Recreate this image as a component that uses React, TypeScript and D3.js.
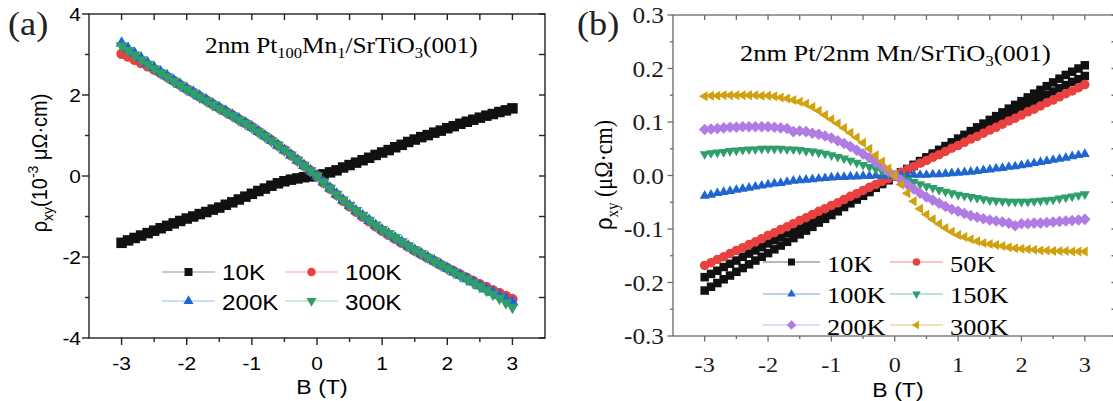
import * as d3 from "d3";

// magnetic field grid, B (T)
const fieldB = [
  -3.0, -2.9, -2.8, -2.7, -2.6, -2.5, -2.4, -2.3, -2.2, -2.1,
  -2.0, -1.9, -1.8, -1.7, -1.6, -1.5, -1.4, -1.3, -1.2, -1.1,
  -1.0, -0.9, -0.8, -0.7, -0.6, -0.5, -0.4, -0.3, -0.2, -0.1,
  0.0, 0.1, 0.2, 0.3, 0.4, 0.5, 0.6, 0.7, 0.8, 0.9,
  1.0, 1.1, 1.2, 1.3, 1.4, 1.5, 1.6, 1.7, 1.8, 1.9,
  2.0, 2.1, 2.2, 2.3, 2.4, 2.5, 2.6, 2.7, 2.8, 2.9,
  3.0,
];

// (a) 2nm Pt100Mn1/SrTiO3(001), rho_xy in 1e-3 uOhm cm
const a10K = [
  -1.65, -1.59, -1.53, -1.47, -1.41, -1.35, -1.29, -1.23, -1.17, -1.11,
  -1.05, -1.0, -0.94, -0.89, -0.83, -0.78, -0.71, -0.65, -0.58, -0.51,
  -0.44, -0.37, -0.31, -0.24, -0.18, -0.13, -0.09, -0.06, -0.03, -0.01,
  0.01, 0.04, 0.09, 0.14, 0.21, 0.27, 0.33, 0.39, 0.45, 0.52,
  0.58, 0.64, 0.71, 0.77, 0.84, 0.9, 0.96, 1.01, 1.07, 1.12,
  1.18, 1.23, 1.29, 1.34, 1.39, 1.44, 1.49, 1.53, 1.58, 1.62,
  1.67,
];
const a100K = [
  3.02, 2.95, 2.87, 2.79, 2.71, 2.63, 2.54, 2.45, 2.35, 2.25,
  2.15, 2.06, 1.96, 1.87, 1.77, 1.68, 1.59, 1.5, 1.4, 1.31,
  1.21, 1.1, 0.99, 0.88, 0.76, 0.64, 0.52, 0.39, 0.26, 0.13,
  0.0, -0.16, -0.31, -0.46, -0.61, -0.75, -0.88, -1.0, -1.12, -1.24,
  -1.35, -1.45, -1.55, -1.65, -1.74, -1.84, -1.93, -2.02, -2.1, -2.19,
  -2.27, -2.35, -2.43, -2.51, -2.59, -2.67, -2.74, -2.82, -2.89, -2.96,
  -3.04,
];
const a200K = [
  3.28, 3.15, 3.03, 2.91, 2.79, 2.68, 2.57, 2.47, 2.36, 2.26,
  2.16, 2.07, 1.97, 1.88, 1.78, 1.69, 1.6, 1.5, 1.41, 1.31,
  1.21, 1.1, 0.99, 0.88, 0.76, 0.64, 0.52, 0.39, 0.26, 0.13,
  0.0, -0.15, -0.3, -0.45, -0.6, -0.73, -0.86, -0.98, -1.1, -1.22,
  -1.33, -1.43, -1.53, -1.63, -1.73, -1.83, -1.92, -2.01, -2.1, -2.19,
  -2.28, -2.37, -2.45, -2.54, -2.62, -2.71, -2.79, -2.87, -2.95, -3.03,
  -3.11,
];
const a300K = [
  3.22, 3.1, 2.99, 2.87, 2.76, 2.65, 2.55, 2.45, 2.34, 2.24,
  2.14, 2.05, 1.95, 1.86, 1.76, 1.67, 1.58, 1.49, 1.39, 1.3,
  1.2, 1.09, 0.98, 0.87, 0.76, 0.64, 0.52, 0.39, 0.26, 0.13,
  0.0, -0.15, -0.3, -0.45, -0.59, -0.72, -0.85, -0.97, -1.09, -1.21,
  -1.32, -1.42, -1.52, -1.62, -1.72, -1.82, -1.91, -2.01, -2.1, -2.19,
  -2.28, -2.37, -2.46, -2.55, -2.64, -2.73, -2.82, -2.92, -3.02, -3.13,
  -3.24,
];

// (b) 2nm Pt/2nm Mn/SrTiO3(001), rho_xy in uOhm cm
const b10KSweepA = [
  -0.215, -0.208, -0.201, -0.194, -0.187, -0.18, -0.173, -0.166, -0.159, -0.152,
  -0.145, -0.138, -0.131, -0.124, -0.117, -0.11, -0.103, -0.096, -0.088, -0.081,
  -0.074, -0.067, -0.059, -0.052, -0.045, -0.038, -0.031, -0.023, -0.016, -0.009,
  -0.002, 0.005, 0.012, 0.02, 0.027, 0.034, 0.041, 0.048, 0.055, 0.062,
  0.069, 0.076, 0.083, 0.09, 0.097, 0.104, 0.111, 0.118, 0.125, 0.132,
  0.139, 0.146, 0.153, 0.16, 0.167, 0.174, 0.181, 0.188, 0.194, 0.2,
  0.206,
];
const b10KSweepB = [
  -0.19, -0.184, -0.178, -0.171, -0.165, -0.159, -0.152, -0.146, -0.14, -0.134,
  -0.127, -0.121, -0.115, -0.108, -0.102, -0.096, -0.089, -0.083, -0.077, -0.07,
  -0.064, -0.058, -0.051, -0.045, -0.039, -0.032, -0.026, -0.02, -0.013, -0.007,
  -0.001, 0.006, 0.012, 0.018, 0.025, 0.031, 0.037, 0.044, 0.05, 0.056,
  0.063, 0.069, 0.075, 0.082, 0.088, 0.094, 0.101, 0.107, 0.113, 0.12,
  0.126, 0.132, 0.139, 0.145, 0.151, 0.157, 0.163, 0.169, 0.175, 0.18,
  0.186,
];
const b50K = [
  -0.168, -0.163, -0.157, -0.152, -0.146, -0.14, -0.135, -0.129, -0.124, -0.118,
  -0.112, -0.107, -0.101, -0.096, -0.09, -0.084, -0.079, -0.073, -0.067, -0.062,
  -0.056, -0.051, -0.045, -0.039, -0.034, -0.028, -0.022, -0.017, -0.011, -0.006,
  0.0, 0.006, 0.011, 0.017, 0.023, 0.028, 0.034, 0.039, 0.045, 0.051,
  0.056, 0.062, 0.068, 0.073, 0.079, 0.085, 0.09, 0.096, 0.102, 0.107,
  0.113, 0.119, 0.124, 0.13, 0.136, 0.141, 0.147, 0.153, 0.158, 0.164,
  0.17,
];
const b100K = [
  -0.038, -0.036, -0.033, -0.031, -0.029, -0.027, -0.025, -0.023, -0.021, -0.019,
  -0.017, -0.015, -0.014, -0.012, -0.01, -0.009, -0.008, -0.007, -0.006, -0.005,
  -0.004, -0.003, -0.003, -0.002, -0.002, -0.001, -0.001, 0.0, 0.0, 0.0,
  0.0, 0.0, 0.0, 0.001, 0.001, 0.001, 0.002, 0.002, 0.003, 0.004,
  0.005, 0.006, 0.007, 0.008, 0.01, 0.011, 0.013, 0.014, 0.016, 0.017,
  0.019, 0.021, 0.023, 0.025, 0.027, 0.029, 0.031, 0.033, 0.036, 0.038,
  0.04,
];
const b150K = [
  0.04, 0.042, 0.043, 0.044, 0.046, 0.047, 0.048, 0.049, 0.049, 0.05,
  0.05, 0.05, 0.05, 0.049, 0.049, 0.048, 0.046, 0.045, 0.043, 0.041,
  0.038, 0.035, 0.032, 0.028, 0.024, 0.02, 0.016, 0.012, 0.008, 0.004,
  0.0, -0.004, -0.008, -0.012, -0.016, -0.02, -0.023, -0.027, -0.03, -0.033,
  -0.036, -0.038, -0.04, -0.042, -0.044, -0.046, -0.047, -0.048, -0.049, -0.049,
  -0.049, -0.049, -0.048, -0.047, -0.046, -0.045, -0.043, -0.041, -0.039, -0.037,
  -0.035,
];
const b200K = [
  0.086, 0.087, 0.088, 0.089, 0.09, 0.09, 0.091, 0.091, 0.091, 0.091,
  0.091, 0.09, 0.089, 0.088, 0.082, 0.083, 0.082, 0.079, 0.077, 0.074,
  0.07, 0.065, 0.06, 0.054, 0.047, 0.04, 0.033, 0.025, 0.017, 0.008,
  0.0, -0.009, -0.017, -0.025, -0.033, -0.04, -0.046, -0.052, -0.058, -0.063,
  -0.067, -0.071, -0.075, -0.078, -0.081, -0.083, -0.085, -0.087, -0.089, -0.094,
  -0.09, -0.09, -0.089, -0.089, -0.088, -0.087, -0.086, -0.085, -0.084, -0.083,
  -0.082,
];
const b300K = [
  0.148, 0.149, 0.149, 0.15, 0.15, 0.15, 0.15, 0.15, 0.15, 0.149,
  0.149, 0.148, 0.146, 0.144, 0.141, 0.138, 0.134, 0.128, 0.121, 0.113,
  0.105, 0.097, 0.089, 0.08, 0.071, 0.061, 0.05, 0.038, 0.026, 0.013,
  0.0, -0.017, -0.033, -0.048, -0.062, -0.073, -0.082, -0.09, -0.098, -0.105,
  -0.111, -0.115, -0.119, -0.123, -0.126, -0.128, -0.13, -0.132, -0.134, -0.136,
  -0.137, -0.138, -0.139, -0.14, -0.14, -0.141, -0.141, -0.141, -0.142, -0.142,
  -0.142,
];

const legendA = ["10K", "100K", "200K", "300K"];
const legendB = ["10K", "50K", "100K", "150K", "200K", "300K"];

const W = 1113;
const H = 401;
const SX = 1.1; // the scan is a bit wider than tall
const SANS = "Liberation Sans, Arial, sans-serif";
const SERIF = "Liberation Serif, Times New Roman, serif";

const BLACK = "#111111";
const RED = "#e8413f";
const BLUE = "#1f66d1";
const GREEN = "#2e9f6b";
const PURPLE = "#b07be3";
const GOLD = "#d1a10f";

type Shape = "square" | "circle" | "up" | "down" | "left" | "diamond";

const triArea = (s: number) => (Math.sqrt(3) / 4) * s * s;

function symbolOf(shape: Shape, s: number) {
  switch (shape) {
    case "square":
      return { d: d3.symbol(d3.symbolSquare, s * s)()!, rot: 0 };
    case "circle":
      return { d: d3.symbol(d3.symbolCircle, Math.PI * (s / 2) ** 2)()!, rot: 0 };
    case "up":
      return { d: d3.symbol(d3.symbolTriangle, triArea(s))()!, rot: 0 };
    case "down":
      return { d: d3.symbol(d3.symbolTriangle, triArea(s))()!, rot: 180 };
    case "left":
      return { d: d3.symbol(d3.symbolTriangle, triArea(s))()!, rot: -90 };
    case "diamond":
      return { d: d3.symbol(d3.symbolSquare, s * s * 0.55)()!, rot: 45 };
  }
}

function Txt(props: any) {
  const { x, y, anchor = "start", font, size, fill = "#000", rotate = false, children } = props;
  const tr = rotate
    ? `translate(${x},${y}) rotate(-90) scale(1,${SX})`
    : `translate(${x},${y}) scale(${SX},1)`;
  return (
    <text transform={tr} textAnchor={anchor} style={{ fontFamily: font }} fontSize={size} fill={fill}>
      {children}
    </text>
  );
}

function Series({ xs, ys, values, shape, size, color }: any) {
  const sym = symbolOf(shape, size);
  return (
    <g fill={color}>
      {values.map((v: number, i: number) => (
        <path
          key={i}
          d={sym.d}
          transform={`translate(${xs(fieldB[i])},${ys(v)}) rotate(${sym.rot})`}
        />
      ))}
    </g>
  );
}

function Frame(props: any) {
  const { xs, ys, xMajor, xMinor, yMajor, yMinor, color, sw, outMaj, outMin, inLen } = props;
  const [x0, x1] = xs.range();
  const [yb, yt] = ys.range();
  const lines: any[] = [];
  const ln = (a: number, b: number, c: number, d: number) =>
    lines.push(<line key={lines.length} x1={a} y1={b} x2={c} y2={d} />);
  xMajor.forEach((v: number) => {
    const x = xs(v);
    ln(x, yb, x, yb + outMaj);
    ln(x, yt, x, yt + inLen);
  });
  xMinor.forEach((v: number) => {
    const x = xs(v);
    ln(x, yb, x, yb + outMin);
    ln(x, yt, x, yt + inLen);
  });
  yMajor.forEach((v: number) => {
    const y = ys(v);
    ln(x0 - outMaj, y, x0, y);
    ln(x1 - inLen, y, x1, y);
  });
  yMinor.forEach((v: number) => {
    const y = ys(v);
    ln(x0 - outMin, y, x0, y);
    ln(x1 - inLen, y, x1, y);
  });
  return (
    <g stroke={color} strokeWidth={sw} fill="none">
      <rect x={x0} y={yt} width={x1 - x0} height={yb - yt} />
      {lines}
    </g>
  );
}

function LegendItem({ x0, x1, y, label, shape, size, color, lineOpacity, textX, baseline, font, fontSize }: any) {
  const sym = symbolOf(shape, size);
  return (
    <g>
      <line x1={x0} x2={x1} y1={y} y2={y} stroke={color} strokeOpacity={lineOpacity} strokeWidth={1.2} />
      <path d={sym.d} fill={color} transform={`translate(${(x0 + x1) / 2},${y}) rotate(${sym.rot})`} />
      <Txt x={textX} y={baseline} font={font} size={fontSize}>
        {label}
      </Txt>
    </g>
  );
}

const isWhole = (v: number, step: number) => Math.abs(v / step - Math.round(v / step)) < 1e-6;

export default function App() {
  // panel (a)
  const xA = d3.scaleLinear().domain([-3.5, 3.5]).range([89, 545]);
  const yA = d3.scaleLinear().domain([-4, 4]).range([338, 14]);
  const xAMajor = xA.ticks(7);
  const xAMinor = xA.ticks(14).filter((v) => !isWhole(v, 1) && Math.abs(v) < 3.5);
  const yAMajor = yA.ticks(4);
  const yAMinor = yA.ticks(8).filter((v) => !isWhole(v, 2));

  // panel (b)
  const xB = d3.scaleLinear().domain([-3.5, 3.5]).range([673, 1116.5]);
  const yB = d3.scaleLinear().domain([-0.3, 0.3]).range([336, 15]);
  const xBMajor = xB.ticks(7);
  const xBMinor = xB.ticks(14).filter((v) => !isWhole(v, 1) && Math.abs(v) < 3.5);
  const yBMajor = yB.ticks(6);
  const yBMinor = yB.ticks(12).filter((v) => !isWhole(v, 0.1));

  const seriesA = [
    { values: a10K, shape: "square", size: 10.5, color: BLACK },
    { values: a100K, shape: "circle", size: 10.5, color: RED },
    { values: a200K, shape: "up", size: 12, color: BLUE },
    { values: a300K, shape: "down", size: 12, color: GREEN },
  ];
  const seriesB = [
    { values: b10KSweepA, shape: "square", size: 8.5, color: BLACK },
    { values: b10KSweepB, shape: "square", size: 8.5, color: BLACK },
    { values: b50K, shape: "circle", size: 9.5, color: RED },
    { values: b100K, shape: "up", size: 10, color: BLUE },
    { values: b150K, shape: "down", size: 10, color: GREEN },
    { values: b200K, shape: "diamond", size: 11, color: PURPLE },
    { values: b300K, shape: "left", size: 10, color: GOLD },
  ];
  const legendShapesA = [
    { shape: "square", size: 8, color: BLACK },
    { shape: "circle", size: 8.5, color: RED },
    { shape: "up", size: 10, color: BLUE },
    { shape: "down", size: 10, color: GREEN },
  ];
  const legendShapesB = [
    { shape: "square", size: 7, color: BLACK },
    { shape: "circle", size: 7.5, color: RED },
    { shape: "up", size: 8.5, color: BLUE },
    { shape: "down", size: 8.5, color: GREEN },
    { shape: "diamond", size: 9, color: PURPLE },
    { shape: "left", size: 8.5, color: GOLD },
  ];

  const colA = [
    { x0: 162, x1: 215, tx: 222 },
    { x0: 285, x1: 338, tx: 345 },
  ];
  const rowA = [
    { y: 272, base: 280 },
    { y: 301, base: 310 },
  ];
  const colB = [
    { x0: 763, x1: 820, tx: 827 },
    { x0: 890, x1: 943, tx: 950 },
  ];
  const rowB = [
    { y: 262, base: 272 },
    { y: 294, base: 303 },
    { y: 325, base: 335 },
  ];

  return (
    <svg
      width={W}
      height={H}
      viewBox={`0 0 ${W} ${H}`}
      style={{ position: "absolute", left: 0, top: 0, background: "#fff" }}
    >
      <rect width={W} height={H} fill="#fff" />

      {/* ---------- panel (a) ---------- */}
      <g>
        {seriesA.map((s, i) => (
          <Series key={i} xs={xA} ys={yA} {...s} />
        ))}
        <Frame
          xs={xA}
          ys={yA}
          xMajor={xAMajor}
          xMinor={xAMinor}
          yMajor={yAMajor}
          yMinor={yAMinor}
          color="#222"
          sw={1.4}
          outMaj={7}
          outMin={4}
          inLen={6}
        />
        {xAMajor.map((v) => (
          <Txt key={v} x={xA(v)} y={370} anchor="middle" font={SANS} size={19}>
            {String(v)}
          </Txt>
        ))}
        {yAMajor.map((v) => (
          <Txt key={v} x={81} y={yA(v) + 7} anchor="end" font={SANS} size={19}>
            {String(v)}
          </Txt>
        ))}
        <Txt x={322} y={394} anchor="middle" font={SANS} size={21}>
          B (T)
        </Txt>
        <Txt x={47} y={163} anchor="middle" font={SANS} size={20} rotate>
          ρ<tspan fontSize={14} dy={5}>xy</tspan>
          <tspan dy={-5}>(10</tspan>
          <tspan fontSize={14} dy={-8}>-3</tspan>
          <tspan dy={8}> μΩ·cm)</tspan>
        </Txt>
        <Txt x={8} y={35} font={SERIF} size={33} fill="#222">
          (a)
        </Txt>
        <Txt x={205} y={53} font={SERIF} size={23}>
          2nm Pt<tspan fontSize={15} dy={5}>100</tspan>
          <tspan dy={-5}>Mn</tspan>
          <tspan fontSize={15} dy={5}>1</tspan>
          <tspan dy={-5}>/SrTiO</tspan>
          <tspan fontSize={15} dy={5}>3</tspan>
          <tspan dy={-5}>(001)</tspan>
        </Txt>
        {legendA.map((label, i) => {
          const c = colA[i % 2];
          const r = rowA[Math.floor(i / 2)];
          return (
            <LegendItem
              key={label}
              x0={c.x0}
              x1={c.x1}
              y={r.y}
              label={label}
              {...legendShapesA[i]}
              lineOpacity={0.45}
              textX={c.tx}
              baseline={r.base}
              font={SANS}
              fontSize={22}
            />
          );
        })}
      </g>

      {/* ---------- panel (b) ---------- */}
      <g>
        {seriesB.map((s, i) => (
          <Series key={i} xs={xB} ys={yB} {...s} />
        ))}
        <Frame
          xs={xB}
          ys={yB}
          xMajor={xBMajor}
          xMinor={xBMinor}
          yMajor={yBMajor}
          yMinor={yBMinor}
          color="#6a6a6a"
          sw={1.3}
          outMaj={5.5}
          outMin={3}
          inLen={5}
        />
        {xBMajor.map((v) => (
          <Txt key={v} x={xB(v)} y={372} anchor="middle" font={SERIF} size={22} fill="#1a1a1a">
            {String(v)}
          </Txt>
        ))}
        {yBMajor.map((v) => (
          <Txt key={v} x={664} y={yB(v) + 8} anchor="end" font={SERIF} size={23} fill="#1a1a1a">
            {v.toFixed(1)}
          </Txt>
        ))}
        <Txt x={898} y={397} anchor="middle" font={SANS} size={21}>
          B (T)
        </Txt>
        <Txt x={612} y={175} anchor="middle" font={SERIF} size={22} rotate>
          <tspan style={{ fontFamily: SANS }}>ρ</tspan>
          <tspan fontSize={15} dy={5}>xy</tspan>
          <tspan dy={-5}> (μΩ·cm)</tspan>
        </Txt>
        <Txt x={577} y={35} font={SERIF} size={33} fill="#222">
          (b)
        </Txt>
        <Txt x={740} y={61} font={SERIF} size={24}>
          2nm Pt/2nm Mn/SrTiO<tspan fontSize={15} dy={5}>3</tspan>
          <tspan dy={-5}>(001)</tspan>
        </Txt>
        {legendB.map((label, i) => {
          const c = colB[i % 2];
          const r = rowB[Math.floor(i / 2)];
          return (
            <LegendItem
              key={label}
              x0={c.x0}
              x1={c.x1}
              y={r.y}
              label={label}
              {...legendShapesB[i]}
              lineOpacity={0.6}
              textX={c.tx}
              baseline={r.base}
              font={SERIF}
              fontSize={24}
            />
          );
        })}
      </g>
    </svg>
  );
}
